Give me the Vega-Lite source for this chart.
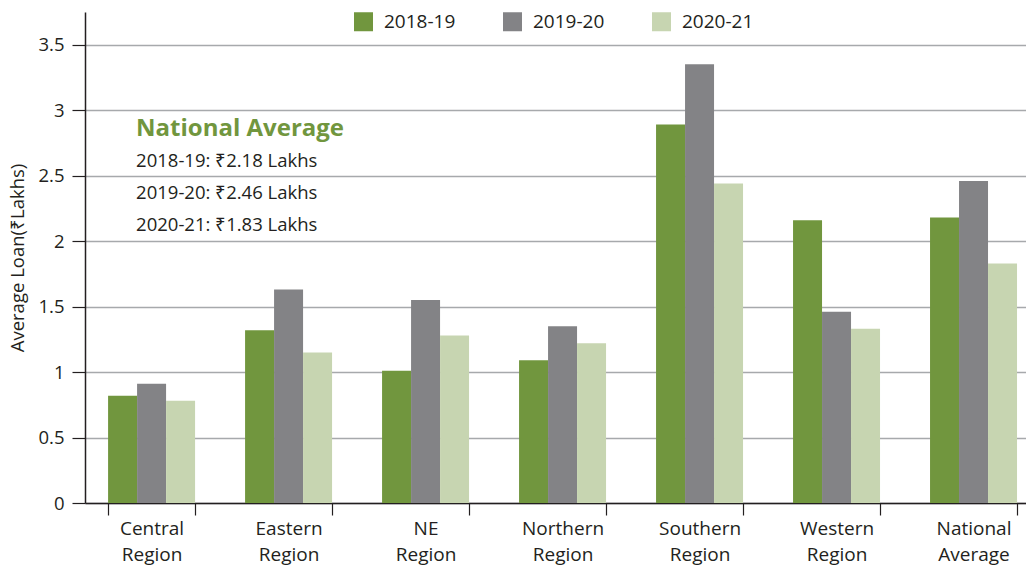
{
  "$schema": "https://vega.github.io/schema/vega-lite/v6.json",
  "autosize": "none",
  "width": 941,
  "height": 491,
  "padding": {"left": 85, "top": 12, "right": 0, "bottom": 62},
  "background": "white",
  "config": {
    "font": "Open Sans",
    "view": {"stroke": null},
    "axis": {"labelFont": "Open Sans", "titleFont": "Open Sans"}
  },
  "datasets": {
    "bars": [
      {"region": "Central Region", "year": "2018-19", "value": 0.82},
      {"region": "Central Region", "year": "2019-20", "value": 0.91},
      {"region": "Central Region", "year": "2020-21", "value": 0.78},
      {"region": "Eastern Region", "year": "2018-19", "value": 1.32},
      {"region": "Eastern Region", "year": "2019-20", "value": 1.63},
      {"region": "Eastern Region", "year": "2020-21", "value": 1.15},
      {"region": "NE Region", "year": "2018-19", "value": 1.01},
      {"region": "NE Region", "year": "2019-20", "value": 1.55},
      {"region": "NE Region", "year": "2020-21", "value": 1.28},
      {"region": "Northern Region", "year": "2018-19", "value": 1.09},
      {"region": "Northern Region", "year": "2019-20", "value": 1.35},
      {"region": "Northern Region", "year": "2020-21", "value": 1.22},
      {"region": "Southern Region", "year": "2018-19", "value": 2.89},
      {"region": "Southern Region", "year": "2019-20", "value": 3.35},
      {"region": "Southern Region", "year": "2020-21", "value": 2.44},
      {"region": "Western Region", "year": "2018-19", "value": 2.16},
      {"region": "Western Region", "year": "2019-20", "value": 1.46},
      {"region": "Western Region", "year": "2020-21", "value": 1.33},
      {"region": "National Average", "year": "2018-19", "value": 2.18},
      {"region": "National Average", "year": "2019-20", "value": 2.46},
      {"region": "National Average", "year": "2020-21", "value": 1.83}
    ],
    "notes": [
      {"text": "2018-19: ₹2.18 Lakhs", "v": 2.61},
      {"text": "2019-20: ₹2.46 Lakhs", "v": 2.37},
      {"text": "2020-21: ₹1.83 Lakhs", "v": 2.12}
    ],
    "heading": [
      {"text": "National Average", "v": 2.86}
    ]
  },
  "layer": [
    {
      "data": {"name": "bars"},
      "mark": {"type": "bar"},
      "encoding": {
        "x": {
          "field": "region",
          "type": "nominal",
          "sort": null,
          "scale": {"paddingInner": 0.365, "paddingOuter": 0.117, "align": 0.72},
          "axis": {
            "title": null,
            "labelAngle": 0,
            "labelExpr": "split(datum.label, ' ')",
            "labelFontSize": 19,
            "labelColor": "#231f20",
            "labelLineHeight": 26,
            "labelPadding": 4,
            "labelBaseline": "top",
            "tickBand": "extent",
            "tickSize": 12,
            "tickColor": "#231f20",
            "tickWidth": 1.2,
            "domainColor": "#231f20",
            "domainWidth": 1.5
          }
        },
        "xOffset": {"field": "year", "type": "nominal", "scale": {"paddingInner": 0, "paddingOuter": 0}},
        "y": {
          "field": "value",
          "type": "quantitative",
          "scale": {"domain": [0, 3.75], "nice": false},
          "axis": {
            "title": "Average Loan(₹Lakhs)",
            "titleFontSize": 18.5,
            "titleFontWeight": "normal",
            "titleColor": "#231f20",
            "titlePadding": 10,
            "values": [0, 0.5, 1, 1.5, 2, 2.5, 3, 3.5],
            "format": "~g",
            "labelFontSize": 18.5,
            "labelColor": "#231f20",
            "labelPadding": 8,
            "tickSize": 13,
            "tickColor": "#231f20",
            "tickWidth": 1.2,
            "domainColor": "#231f20",
            "domainWidth": 1.5,
            "grid": true,
            "gridColor": "#a7a9ac",
            "gridWidth": 1.5
          }
        },
        "color": {
          "field": "year",
          "type": "nominal",
          "scale": {"domain": ["2018-19", "2019-20", "2020-21"], "range": ["#71963e", "#838386", "#c7d5b1"]},
          "legend": {
            "title": null,
            "orient": "none",
            "direction": "horizontal",
            "legendX": 269,
            "legendY": 0,
            "symbolType": "square",
            "symbolSize": 361,
            "symbolStrokeWidth": 0,
            "symbolOpacity": 1,
            "labelFontSize": 19,
            "labelColor": "#231f20",
            "labelOffset": 11,
            "columnPadding": 47
          }
        }
      }
    },
    {
      "data": {"name": "heading"},
      "mark": {"type": "text", "align": "left", "baseline": "middle", "fontSize": 24, "fontWeight": "bold", "color": "#71963e", "dx": 28},
      "encoding": {
        "x": {"datum": "Central Region", "bandPosition": 0},
        "y": {"field": "v", "type": "quantitative"},
        "text": {"field": "text"}
      }
    },
    {
      "data": {"name": "notes"},
      "mark": {"type": "text", "align": "left", "baseline": "middle", "fontSize": 18.5, "color": "#231f20", "dx": 28},
      "encoding": {
        "x": {"datum": "Central Region", "bandPosition": 0},
        "y": {"field": "v", "type": "quantitative"},
        "text": {"field": "text"}
      }
    }
  ]
}
